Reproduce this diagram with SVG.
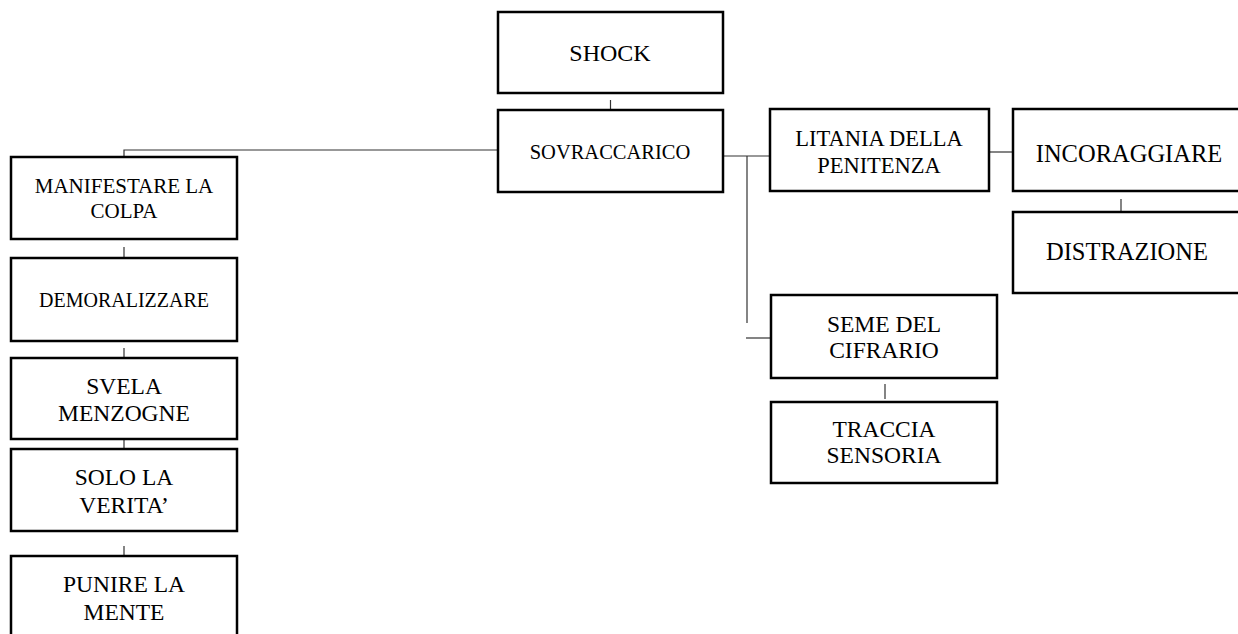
<svg xmlns="http://www.w3.org/2000/svg" width="1238" height="634" viewBox="0 0 1238 634">
  <style>
    .box { fill: #ffffff; stroke: #000000; stroke-width: 2.5; }
    .lbl { font-family: "Liberation Serif", "Times New Roman", serif; fill: #000000; text-anchor: middle; }
    .conn { fill: none; stroke: #333333; stroke-width: 1.2; }
  </style>
  <rect x="0" y="0" width="1238" height="634" fill="#ffffff"/>

  <!-- connectors -->
  <g id="connectors">
    <line class="conn" x1="610.5" y1="100" x2="610.5" y2="110"/>
    <polyline class="conn" points="498,150 124,150 124,157"/>
    <line class="conn" x1="124" y1="247" x2="124" y2="258"/>
    <line class="conn" x1="124" y1="348" x2="124" y2="358"/>
    <line class="conn" x1="124" y1="439" x2="124" y2="449"/>
    <line class="conn" x1="124" y1="546" x2="124" y2="556"/>
    <line class="conn" x1="723" y1="156" x2="770" y2="156"/>
    <line class="conn" x1="747" y1="156" x2="747" y2="323"/>
    <line class="conn" x1="746" y1="338" x2="771" y2="338"/>
    <line class="conn" x1="989" y1="152" x2="1013" y2="152"/>
    <line class="conn" x1="1121" y1="199" x2="1121" y2="212"/>
    <line class="conn" x1="885" y1="384" x2="885" y2="399"/>
  </g>

  <g id="shock">
    <rect class="box" x="498" y="12" width="225" height="81"/>
    <text class="lbl" x="610" y="61" font-size="24">SHOCK</text>
  </g>
  <g id="sovraccarico">
    <rect class="box" x="498" y="110" width="225" height="82"/>
    <text class="lbl" x="610" y="159" font-size="20.5">SOVRACCARICO</text>
  </g>

  <g id="manifestare">
    <rect class="box" x="11" y="157" width="226" height="82"/>
    <text class="lbl" x="124" y="193" font-size="21">MANIFESTARE LA</text>
    <text class="lbl" x="124" y="218" font-size="21">COLPA</text>
  </g>
  <g id="demoralizzare">
    <rect class="box" x="11" y="258" width="226" height="83"/>
    <text class="lbl" x="124" y="306.5" font-size="20">DEMORALIZZARE</text>
  </g>
  <g id="svela">
    <rect class="box" x="11" y="358" width="226" height="81"/>
    <text class="lbl" x="124" y="394" font-size="23.5">SVELA</text>
    <text class="lbl" x="124" y="420.5" font-size="23.5">MENZOGNE</text>
  </g>
  <g id="solo">
    <rect class="box" x="11" y="449" width="226" height="82"/>
    <text class="lbl" x="124" y="484.5" font-size="23.5">SOLO LA</text>
    <text class="lbl" x="124" y="512.5" font-size="23.5">VERITA’</text>
  </g>
  <g id="punire">
    <rect class="box" x="11" y="556" width="226" height="100"/>
    <text class="lbl" x="124" y="592" font-size="23.5">PUNIRE LA</text>
    <text class="lbl" x="124" y="620" font-size="23.5">MENTE</text>
  </g>

  <g id="litania">
    <rect class="box" x="770" y="109" width="219" height="82"/>
    <text class="lbl" x="879" y="146" font-size="22.5">LITANIA DELLA</text>
    <text class="lbl" x="879" y="172.5" font-size="22.5">PENITENZA</text>
  </g>
  <g id="incoraggiare">
    <rect class="box" x="1013" y="109" width="232" height="82"/>
    <text class="lbl" x="1129" y="161.5" font-size="24.5">INCORAGGIARE</text>
  </g>
  <g id="distrazione">
    <rect class="box" x="1013" y="212" width="232" height="81"/>
    <text class="lbl" x="1127" y="260" font-size="24.5">DISTRAZIONE</text>
  </g>

  <g id="seme">
    <rect class="box" x="771" y="295" width="226" height="83"/>
    <text class="lbl" x="884" y="331.5" font-size="23.5">SEME DEL</text>
    <text class="lbl" x="884" y="357.5" font-size="23.5">CIFRARIO</text>
  </g>
  <g id="traccia">
    <rect class="box" x="771" y="402" width="226" height="81"/>
    <text class="lbl" x="884" y="437" font-size="23.5">TRACCIA</text>
    <text class="lbl" x="884" y="463" font-size="23.5">SENSORIA</text>
  </g>
</svg>
